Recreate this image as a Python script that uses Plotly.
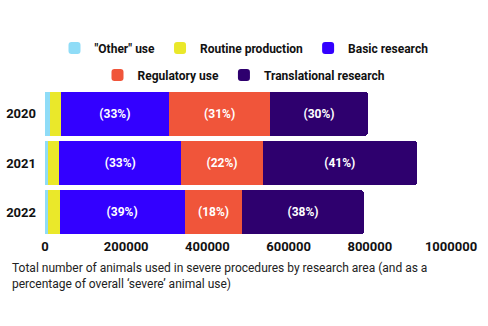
import plotly.graph_objects as go

years = ["2020", "2021", "2022"]
other_use = [12000, 8000, 7000]
routine_production = [27000, 27000, 29000]
basic_research = [266000, 301000, 308000]
regulatory_use = [250000, 200000, 142000]
translational_research = [240000, 380000, 299000]

basic_pct = ["(33%)", "(33%)", "(39%)"]
regulatory_pct = ["(31%)", "(22%)", "(18%)"]
translational_pct = ["(30%)", "(41%)", "(38%)"]

x_ticks = [0, 200000, 400000, 600000, 800000, 1000000]

series = [
    ("\"Other\" use", other_use, "#8FDCF7", None, "legend"),
    ("Routine production", routine_production, "#EAE82A", None, "legend"),
    ("Basic research", basic_research, "#3300FF", basic_pct, "legend"),
    ("Regulatory use", regulatory_use, "#F0553A", regulatory_pct, "legend2"),
    ("Translational research", translational_research, "#2E006E", translational_pct, "legend2"),
]

FONT_B = "Roboto"
FONT_R = "Roboto"
W, H = 488, 326
ML, MR, MT, MB = 45, 37, 89, 89
PW, PH = W - ML - MR, H - MT - MB

fig = go.Figure()
for name, vals, color, txt, lg in series:
    fig.add_trace(go.Bar(
        name=name, y=years, x=vals, orientation="h",
        marker=dict(color=color, line=dict(width=0)),
        text=txt, textposition="inside" if txt else "none",
        insidetextanchor="middle",
        textfont=dict(color="white", size=12, family=FONT_B, weight="bold"),
        hoverinfo="skip", legend=lg,
    ))

fig.update_layout(
    width=W, height=H,
    barmode="stack", bargap=0.11, barcornerradius=3,
    plot_bgcolor="white", paper_bgcolor="white",
    margin=dict(l=ML, r=MR, t=MT, b=MB, autoexpand=False),
    font=dict(family=FONT_R, color="#111111"),
    legend=dict(orientation="h", xref="container", yref="container",
                x=0.5, xanchor="center", y=1 - 48 / H, yanchor="middle",
                font=dict(size=12, family=FONT_B, weight="bold", color="#111111"),
                itemwidth=30, traceorder="normal"),
    legend2=dict(orientation="h", xref="container", yref="container",
                 x=0.5, xanchor="center", y=1 - 75 / H, yanchor="middle",
                 font=dict(size=12, family=FONT_B, weight="bold", color="#111111"),
                 itemwidth=30, traceorder="normal"),
    xaxis=dict(range=[0, 1000000], tickvals=x_ticks,
               ticktext=[str(v) for v in x_ticks],
               showgrid=False, zeroline=False, showline=False, automargin=False,
               tickfont=dict(size=13, family=FONT_B, weight="bold", color="#111111"),
               fixedrange=True),
    yaxis=dict(categoryorder="array", categoryarray=years, autorange="reversed",
               showgrid=False, zeroline=False, showline=False, ticks="",
               ticklabelstandoff=8, automargin=False,
               tickfont=dict(size=13, family=FONT_B, weight="bold", color="#111111")),
    showlegend=True,
)

fig.add_annotation(
    text="Total number of animals used in severe procedures by research area (and as a<br>percentage of overall ‘severe’ animal use)",
    xref="paper", yref="paper", x=(10 - ML) / PW, y=(H - MB - 259) / PH,
    xanchor="left", yanchor="top", align="left", showarrow=False,
    font=dict(size=12, family=FONT_R, color="#222222"),
)

fig.write_html("out.html")
